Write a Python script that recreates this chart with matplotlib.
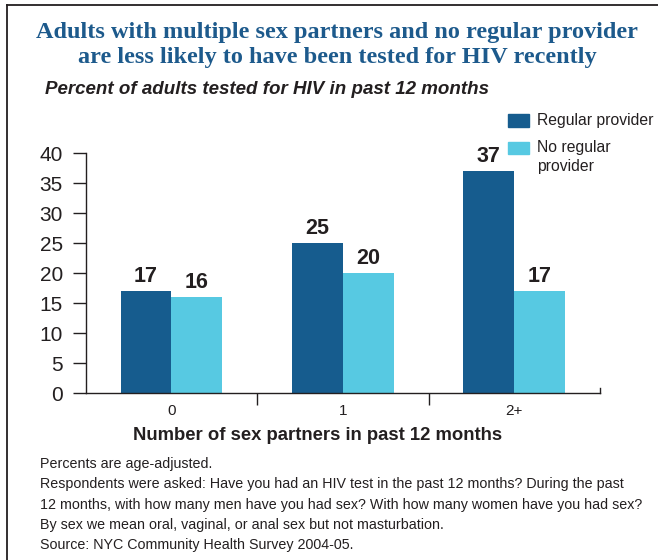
import matplotlib.pyplot as plt
from matplotlib.patches import Rectangle
from matplotlib.lines import Line2D
import numpy as np

# data
categories = ['0', '1', '2+']
regular = [17, 25, 37]
no_regular = [16, 20, 17]
series_names = ['Regular provider', 'No regular\nprovider']
yticks = [0, 5, 10, 15, 20, 25, 30, 35, 40]

title = ('Adults with multiple sex partners and no regular provider\n'
         'are less likely to have been tested for HIV recently')
subtitle = 'Percent of adults tested for HIV in past 12 months'
xlabel = 'Number of sex partners in past 12 months'
notes = [
    'Percents are age-adjusted.',
    'Respondents were asked: Have you had an HIV test in the past 12 months? During the past',
    '12 months, with how many men have you had sex? With how many women have you had sex?',
    'By sex we mean oral, vaginal, or anal sex but not masturbation.',
    'Source: NYC Community Health Survey 2004-05.',
]

DARK = '#165c8e'
LIGHT = '#57c9e2'
TITLE_C = '#1d5a8c'
INK = '#231f20'

plt.rcParams['font.family'] = ['Liberation Sans', 'DejaVu Sans']
plt.rcParams['text.color'] = INK

W, H = 658, 560


def fx(px):
    return px / W


def fy(py):
    return 1 - py / H


fig = plt.figure(figsize=(W / 100, H / 100), dpi=100)
ax = fig.add_axes([fx(85.7), fy(393.3), fx(600) - fx(85.7), fy(153.3) - fy(393.3)])

x = np.arange(len(categories))
bw = 0.297
bars1 = ax.bar(x - bw / 2, regular, bw, color=DARK)
bars2 = ax.bar(x + bw / 2, no_regular, bw, color=LIGHT)

for bars, vals in [(bars1, regular), (bars2, no_regular)]:
    for b, v in zip(bars, vals):
        ax.annotate(str(v), (b.get_x() + b.get_width() / 2, v), xytext=(0, 6.5),
                    textcoords='offset points', ha='center', va='baseline',
                    fontsize=15.5, fontweight='bold', color=INK)

ax.set_xlim(-0.5, 2.5)
ax.set_ylim(0, 40)
ax.set_yticks(yticks)
ax.set_xticks(x, categories)
ax.set_xticks([0.5, 1.5], minor=True)

for s in ['top', 'right']:
    ax.spines[s].set_visible(False)
for s in ['left', 'bottom']:
    ax.spines[s].set_color(INK)
    ax.spines[s].set_linewidth(1)

ax.tick_params(axis='y', direction='out', length=9.4, width=1, pad=7,
               labelsize=15, colors=INK)
ax.tick_params(axis='x', which='major', length=0, pad=8, labelsize=11, colors=INK)
ax.tick_params(axis='x', which='minor', direction='out', length=8.6, width=1, color=INK)

# little end cap at right of x axis
ax.plot([1, 1], [0, 5 / 240], transform=ax.transAxes, color=INK, lw=1, clip_on=False)

# legend drawn by hand
fig.patches.append(Rectangle((fx(508), fy(127)), fx(21), 13 / H,
                             transform=fig.transFigure, color=DARK))
fig.patches.append(Rectangle((fx(508), fy(154)), fx(21), 12 / H,
                             transform=fig.transFigure, color=LIGHT))
fig.text(fx(537), fy(121), series_names[0], fontsize=11.3, va='center', ha='left')
fig.text(fx(537), fy(140), series_names[1], fontsize=11.3, va='top', ha='left',
         linespacing=1.3)

# titles
fig.text(fx(337), fy(45), title, fontsize=17.5, fontweight='bold', color=TITLE_C,
         family=['Liberation Serif', 'DejaVu Serif'], ha='center', va='center',
         linespacing=1.2)
fig.text(fx(45), fy(90), subtitle, fontsize=13.5, fontweight='bold', style='italic',
         ha='left', va='center')
fig.text(fx(318), fy(436), xlabel, fontsize=13.3, fontweight='bold', ha='center', va='center')

for i, line in enumerate(notes):
    fig.text(fx(40), fy(464 + 20.3 * i), line, fontsize=10.3,
             family=['Liberation Sans', 'DejaVu Sans'],
             ha='left', va='center')

# frame
fig.add_artist(Line2D([fx(7), fx(7)], [fy(5), 0], color=INK, lw=1.3))
fig.add_artist(Line2D([fx(7), 1], [fy(5), fy(5)], color=INK, lw=1.3))

fig.savefig('out.png', dpi=100)
